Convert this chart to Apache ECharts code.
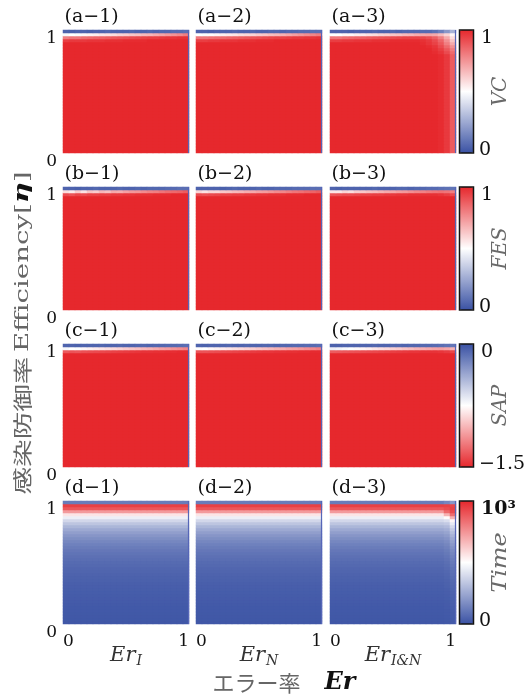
<!DOCTYPE html>
<html><head><meta charset="utf-8">
<script src="https://cdn.jsdelivr.net/npm/echarts@6.0.0/dist/echarts.min.js"></script>
<style>html,body{margin:0;padding:0;background:#fff}#c{width:529px;height:694px}</style>
</head><body><div id="c"></div>
<script>
// ---------- axes / categories ----------
const erValues = [0,0.05,0.1,0.15,0.2,0.25,0.3,0.35,0.4,0.45,0.5,0.55,0.6,0.65,0.7,0.75,0.8,0.85,0.9,0.95,1];
const etaValues = [0,0.025,0.05,0.075,0.1,0.125,0.15,0.175,0.2,0.225,0.25,0.275,0.3,0.325,0.35,0.375,0.4,0.425,0.45,0.475,0.5,0.525,0.55,0.575,0.6,0.625,0.65,0.675,0.7,0.725,0.75,0.775,0.8,0.825,0.85,0.875,0.9,0.925,0.95,0.975,1];
const panelLabels = [['(a\u22121)','(a\u22122)','(a\u22123)'],['(b\u22121)','(b\u22122)','(b\u22123)'],['(c\u22121)','(c\u22122)','(c\u22123)'],['(d\u22121)','(d\u22122)','(d\u22123)']];
const xSubLabels = ['I','N','I&N'];
const colorbarNames = ['VC','FES','SAP','Time'];
const colorbarTopLabels = ['1','1','0','10\u00b3'];
const colorbarBottomLabels = ['0','0','\u22121.5','0'];
const rangeMin = [0,0,-1.5,0];
const rangeMax = [1,1,0,1000];

// ---------- VC (row a): top rows from eta=1.00 downward, then bulk ----------
const vcA1Top = [
 [0.05,0.04,0.05,0.05,0.04,0.05,0.05,0.06,0.05,0.05,0.05,0.06,0.05,0.05,0.06,0.05,0.06,0.06,0.07,0.07,0.08],
 [0.48,0.5,0.49,0.52,0.53,0.54,0.56,0.57,0.58,0.6,0.61,0.63,0.64,0.66,0.67,0.69,0.71,0.73,0.75,0.77,0.8],
 [0.8,0.82,0.82,0.84,0.85,0.86,0.87,0.88,0.89,0.9,0.91,0.92,0.93,0.94,0.95,0.95,0.96,0.97,0.97,0.98,0.98],
 [0.95,0.96,0.96,0.96,0.97,0.97,0.97,0.98,0.98,0.98,0.99,0.99,0.99,0.99,1,1,1,1,1,1,1]
];
const vcA1Bulk = [1,1,1,1,1,1,1,1,1,1,1,1,1,1,1,1,1,1,1,1,1];
const vcA2Top = [
 [0.05,0.05,0.04,0.05,0.05,0.05,0.06,0.05,0.05,0.06,0.05,0.05,0.06,0.06,0.05,0.06,0.06,0.07,0.07,0.08,0.08],
 [0.5,0.49,0.51,0.52,0.54,0.55,0.56,0.58,0.59,0.6,0.62,0.63,0.65,0.66,0.68,0.7,0.72,0.74,0.76,0.78,0.8],
 [0.82,0.82,0.83,0.84,0.85,0.86,0.87,0.88,0.89,0.9,0.91,0.92,0.93,0.94,0.94,0.95,0.96,0.96,0.97,0.97,0.98],
 [0.95,0.95,0.96,0.96,0.97,0.97,0.97,0.98,0.98,0.98,0.99,0.99,0.99,1,1,1,1,1,1,1,1]
];
const vcA2Bulk = [1,1,1,1,1,1,1,1,1,1,1,1,1,1,1,1,1,1,1,1,1];
const vcA3Top = [
 [0.05,0.05,0.05,0.04,0.05,0.05,0.05,0.06,0.05,0.05,0.06,0.05,0.06,0.06,0.06,0.07,0.07,0.09,0.13,0.2,0.28],
 [0.5,0.5,0.52,0.52,0.54,0.55,0.57,0.58,0.6,0.61,0.63,0.64,0.66,0.67,0.69,0.7,0.71,0.7,0.66,0.6,0.52],
 [0.82,0.82,0.84,0.85,0.86,0.87,0.88,0.89,0.9,0.91,0.92,0.93,0.94,0.94,0.94,0.93,0.91,0.87,0.8,0.7,0.58],
 [0.95,0.95,0.96,0.96,0.97,0.97,0.97,0.98,0.98,0.98,0.99,0.99,0.99,0.99,0.99,0.98,0.96,0.92,0.86,0.76,0.64],
 [1,1,1,1,1,1,1,1,1,1,1,1,1,1,1,0.99,0.97,0.94,0.89,0.8,0.7],
 [1,1,1,1,1,1,1,1,1,1,1,1,1,1,1,1,0.99,0.97,0.92,0.85,0.76],
 [1,1,1,1,1,1,1,1,1,1,1,1,1,1,1,1,1,0.98,0.95,0.89,0.81],
 [1,1,1,1,1,1,1,1,1,1,1,1,1,1,1,1,1,0.99,0.97,0.92,0.85]
];
const vcA3Bulk = [1,1,1,1,1,1,1,1,1,1,1,1,1,1,1,1,1,1,0.99,0.96,0.88];

// ---------- FES (row b) ----------
const fesB1Top = [
 [0.05,0.05,0.04,0.05,0.05,0.06,0.05,0.05,0.05,0.06,0.05,0.05,0.06,0.05,0.06,0.06,0.06,0.07,0.07,0.08,0.08],
 [0.58,0.55,0.62,0.57,0.64,0.62,0.67,0.65,0.7,0.69,0.72,0.74,0.75,0.77,0.79,0.8,0.82,0.84,0.85,0.86,0.88],
 [0.92,0.9,0.93,0.92,0.94,0.94,0.95,0.95,0.96,0.96,0.97,0.97,0.98,0.98,0.98,0.99,0.99,0.99,1,1,1]
];
const fesB2Top = [
 [0.05,0.05,0.05,0.05,0.04,0.05,0.06,0.05,0.05,0.05,0.06,0.05,0.05,0.06,0.06,0.06,0.07,0.07,0.07,0.08,0.08],
 [0.6,0.57,0.6,0.6,0.63,0.64,0.66,0.67,0.69,0.7,0.72,0.73,0.75,0.77,0.78,0.8,0.82,0.83,0.85,0.86,0.88],
 [0.92,0.91,0.92,0.93,0.94,0.94,0.95,0.95,0.96,0.96,0.97,0.97,0.98,0.98,0.98,0.99,0.99,0.99,1,1,1]
];
const fesB3Top = [
 [0.05,0.04,0.05,0.05,0.05,0.05,0.05,0.06,0.05,0.05,0.05,0.06,0.06,0.05,0.06,0.06,0.07,0.07,0.08,0.09,0.1],
 [0.56,0.56,0.6,0.58,0.62,0.63,0.65,0.66,0.68,0.7,0.71,0.73,0.74,0.76,0.78,0.79,0.81,0.82,0.83,0.82,0.8],
 [0.9,0.91,0.92,0.92,0.93,0.94,0.94,0.95,0.95,0.96,0.96,0.97,0.97,0.98,0.98,0.98,0.98,0.98,0.97,0.95,0.92]
];
const fesBulk = 1;

// ---------- SAP (row c) ----------
const sapC1Top = [
 [-0.08,-0.08,-0.07,-0.08,-0.08,-0.08,-0.09,-0.08,-0.08,-0.09,-0.08,-0.08,-0.09,-0.09,-0.08,-0.09,-0.09,-0.1,-0.1,-0.11,-0.12],
 [-0.72,-0.75,-0.74,-0.78,-0.8,-0.82,-0.84,-0.86,-0.88,-0.9,-0.93,-0.95,-0.97,-1.0,-1.02,-1.05,-1.08,-1.1,-1.13,-1.15,-1.18],
 [-1.33,-1.35,-1.34,-1.36,-1.37,-1.38,-1.39,-1.4,-1.41,-1.42,-1.43,-1.44,-1.45,-1.46,-1.46,-1.47,-1.47,-1.48,-1.48,-1.49,-1.49]
];
const sapC2Top = [
 [-0.08,-0.07,-0.08,-0.08,-0.08,-0.09,-0.08,-0.08,-0.09,-0.08,-0.08,-0.09,-0.09,-0.08,-0.09,-0.09,-0.1,-0.1,-0.11,-0.11,-0.12],
 [-0.76,-0.75,-0.78,-0.8,-0.82,-0.84,-0.86,-0.88,-0.9,-0.92,-0.95,-0.97,-0.99,-1.02,-1.04,-1.07,-1.09,-1.11,-1.14,-1.16,-1.19],
 [-1.35,-1.35,-1.36,-1.37,-1.38,-1.39,-1.4,-1.41,-1.42,-1.43,-1.44,-1.45,-1.45,-1.46,-1.46,-1.47,-1.47,-1.48,-1.48,-1.49,-1.49]
];
const sapC3Top = [
 [-0.07,-0.07,-0.08,-0.08,-0.08,-0.08,-0.08,-0.09,-0.08,-0.08,-0.09,-0.09,-0.08,-0.09,-0.09,-0.1,-0.1,-0.11,-0.12,-0.14,-0.16],
 [-0.68,-0.7,-0.72,-0.74,-0.77,-0.79,-0.81,-0.84,-0.86,-0.88,-0.91,-0.93,-0.96,-0.98,-1.01,-1.03,-1.05,-1.07,-1.08,-1.06,-1.02],
 [-1.32,-1.33,-1.34,-1.35,-1.36,-1.37,-1.38,-1.39,-1.4,-1.41,-1.42,-1.43,-1.44,-1.45,-1.45,-1.46,-1.46,-1.46,-1.45,-1.43,-1.4]
];
const sapBulk = -1.5;

// ---------- Time (row d): vertical profiles, eta = 0 ... 1 ----------
const timeProfile = [15,16,18,19,20,21,23,25,27,29, 31,34,36,39,43,46,50,55,59,66, 72,80,88,97,108,121,135,152,172,195, 221,252,288,332,385,455,560,735,890,945, 120];
const timeD3Edge095 = [18,19,21,22,24,25,27,29,31,33, 36,39,42,46,50,54,59,64,70,77, 84,93,102,112,123,136,151,168,188,211, 237,267,301,345,405,510,680,850,915,940, 150];
const timeD3Edge100 = [25,26,28,30,32,34,37,40,43,46, 50,54,58,63,68,74,80,87,95,104, 114,125,137,151,166,183,202,224,248,276, 308,345,388,440,520,680,840,920,940,930, 200];

// ---------- table builders ----------
function bandPanel(topRows, bulk) {
  const out = [];
  const n = etaValues.length;
  for (let yi = 0; yi < n; yi++) {
    const k = n - 1 - yi;
    for (let xi = 0; xi < erValues.length; xi++) {
      let v;
      if (k < topRows.length) v = topRows[k][xi];
      else v = Array.isArray(bulk) ? bulk[xi] : bulk;
      out.push([xi, yi, v]);
    }
  }
  return out;
}
function profilePanel(profile, overrides) {
  const out = [];
  for (let yi = 0; yi < etaValues.length; yi++) {
    for (let xi = 0; xi < erValues.length; xi++) {
      let v = profile[yi];
      (overrides || []).forEach(o => { if (o[0] === xi) v = o[1][yi]; });
      out.push([xi, yi, v]);
    }
  }
  return out;
}
const panelData = [
  [bandPanel(vcA1Top, vcA1Bulk), bandPanel(vcA2Top, vcA2Bulk), bandPanel(vcA3Top, vcA3Bulk)],
  [bandPanel(fesB1Top, fesBulk), bandPanel(fesB2Top, fesBulk), bandPanel(fesB3Top, fesBulk)],
  [bandPanel(sapC1Top, sapBulk), bandPanel(sapC2Top, sapBulk), bandPanel(sapC3Top, sapBulk)],
  [profilePanel(timeProfile), profilePanel(timeProfile), profilePanel(timeProfile, [[19, timeD3Edge095], [20, timeD3Edge100]])]
];

// ---------- layout ----------
const colLefts = [63, 196, 330], colW = 126;
const rowTops = [30, 187, 344, 501], rowH = 123;
const cbLeft = 459.5, cbW = 14;
const BLUE = '#3a52a4', WHITE = '#ffffff', RED = '#e6282d';
const serif = 'DejaVu Serif';

const grids = [], xAxes = [], yAxes = [], series = [], visualMaps = [], graphics = [];
for (let r = 0; r < 4; r++) {
  for (let c = 0; c < 3; c++) {
    const gi = r * 3 + c;
    grids.push({left: colLefts[c], top: rowTops[r], width: colW, height: rowH, containLabel: false});
    xAxes.push({type: 'category', gridIndex: gi, data: erValues, show: false, position: 'bottom'});
    xAxes.push({type: 'value', gridIndex: gi, min: 0, max: 1, interval: 1, position: 'bottom', show: r === 3,
      axisLine: {show: false}, axisTick: {show: false}, splitLine: {show: false},
      axisLabel: {margin: 9, fontFamily: serif, fontSize: 17, color: '#111', alignMinLabel: 'left', alignMaxLabel: 'right'}});
    yAxes.push({type: 'category', gridIndex: gi, data: etaValues, show: false, position: 'left'});
    yAxes.push({type: 'value', gridIndex: gi, min: 0, max: 1, interval: 1, position: 'left', show: c === 0,
      axisLine: {show: false}, axisTick: {show: false}, splitLine: {show: false},
      axisLabel: {margin: 6, fontFamily: serif, fontSize: 17, color: '#111', verticalAlign: 'top'}});
    series.push({type: 'heatmap', xAxisIndex: 2 * gi, yAxisIndex: 2 * gi, data: panelData[r][c],
      silent: true, emphasis: {disabled: true}, itemStyle: {borderWidth: 0}, progressive: 0});
    graphics.push({type: 'text', x: colLefts[c] + 1.5, y: rowTops[r] - 13,
      style: {text: panelLabels[r][c], fontFamily: serif, fontSize: 19, fill: '#111', align: 'left', verticalAlign: 'middle'}});
    graphics.push({type: 'line', z: 50, shape: {x1: colLefts[c] + colW - 0.5, y1: rowTops[r], x2: colLefts[c] + colW - 0.5, y2: rowTops[r] + rowH},
      style: {stroke: '#5666b8', lineWidth: 1.2}});
  }
  const colors = r === 2 ? [RED, WHITE, BLUE] : [BLUE, WHITE, RED];
  visualMaps.push({type: 'continuous', seriesIndex: [r * 3, r * 3 + 1, r * 3 + 2], min: rangeMin[r], max: rangeMax[r],
    dimension: 2, calculable: false, orient: 'vertical', left: cbLeft, top: rowTops[r], padding: 0,
    itemWidth: cbW, itemHeight: rowH, text: null, showLabel: false, inRange: {color: colors}});
  graphics.push({type: 'rect', z: 100, shape: {x: cbLeft, y: rowTops[r], width: cbW, height: rowH},
    style: {fill: 'none', stroke: '#111', lineWidth: 1.5}});
  graphics.push({type: 'text', x: 481, y: rowTops[r] - 1,
    style: {text: colorbarTopLabels[r], fontFamily: serif, fontSize: 19, fontWeight: r === 3 ? 'bold' : 'normal', fill: '#111', align: 'left', verticalAlign: 'top'}});
  graphics.push({type: 'text', x: 479, y: rowTops[r] + rowH - 3,
    style: {text: colorbarBottomLabels[r], fontFamily: serif, fontSize: 19, fill: '#111', align: 'left', verticalAlign: 'middle'}});
  graphics.push({type: 'text', x: 501, y: rowTops[r] + rowH / 2, rotation: Math.PI / 2, scaleX: r === 3 ? 1.2 : 1,
    style: {text: colorbarNames[r], fontFamily: serif, fontStyle: 'italic', fontSize: 20, fill: '#6a6a6a', align: 'center', verticalAlign: 'middle'}});
}
for (let c = 0; c < 3; c++) {
  graphics.push({type: 'text', x: colLefts[c] + colW / 2, y: 656,
    style: {text: '{e|Er}{s|' + xSubLabels[c] + '}', align: 'center', verticalAlign: 'middle',
      rich: {e: {fontFamily: serif, fontStyle: 'italic', fontSize: 21, fill: '#333', lineHeight: 24},
             s: {fontFamily: serif, fontStyle: 'italic', fontSize: 14, fill: '#333', verticalAlign: 'bottom', lineHeight: 14, padding: [6, 0, 0, 1]}}}});
}
graphics.push({type: 'text', x: 284, y: 683,
  style: {text: '{j|エラー率}{b|Er}', align: 'center', verticalAlign: 'middle',
    rich: {j: {fontFamily: 'Noto Sans CJK JP', fontSize: 22, fill: '#666'},
           b: {fontFamily: serif, fontStyle: 'italic', fontWeight: 'bold', fontSize: 24, fill: '#111', padding: [0, 0, 0, 24]}}}});
graphics.push({type: 'text', x: 23, y: 333, rotation: Math.PI / 2, scaleX: 1.45,
  style: {text: '{j|感染防御率} {l|Efficiency[}{g|η}{l|]}', align: 'center', verticalAlign: 'middle',
    rich: {j: {fontFamily: 'Noto Sans CJK JP', fontSize: 19, fill: '#666'},
           l: {fontFamily: serif, fontSize: 19, fill: '#666'},
           g: {fontFamily: serif, fontStyle: 'italic', fontWeight: 'bold', fontSize: 20, fill: '#111'}}}});

const chart = echarts.init(document.getElementById('c'), null, {renderer: 'canvas'});
chart.setOption({
  animation: false,
  backgroundColor: '#fff',
  grid: grids, xAxis: xAxes, yAxis: yAxes, series: series, visualMap: visualMaps,
  graphic: {elements: graphics}
});
</script></body></html>
